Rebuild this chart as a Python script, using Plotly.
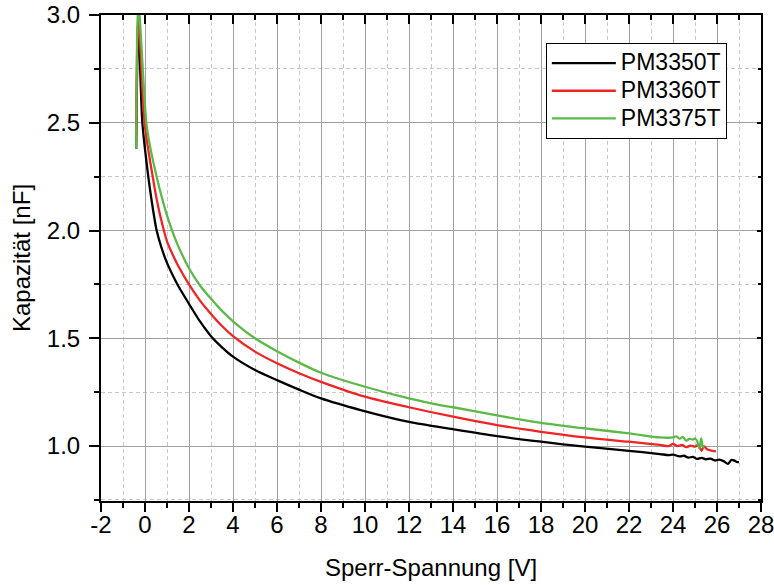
import plotly.graph_objects as go

# ---- data ----
v_3350 = [-0.4, -0.3, -0.12, 0.15, 0.3, 0.53, 0.75, 1.0, 1.25, 1.5, 2.0, 2.5, 3.0, 3.5, 4.0, 5.0, 6.0, 7.0, 8.0, 9.8,
          12.0, 14.0, 16.0, 18.0, 20.0, 22.0, 23.4, 23.8, 24.0, 24.3, 24.5, 24.7, 24.9, 25.1, 25.3, 25.5,
          25.7, 25.9, 26.1, 26.3, 26.5, 26.65, 26.8, 26.9, 27.0]
c_3350 = [2.38, 2.97, 2.5, 2.25, 2.14, 2.0, 1.92, 1.85, 1.795, 1.745, 1.66, 1.578, 1.51, 1.458, 1.415, 1.353, 1.306, 1.262, 1.221, 1.167,
          1.112, 1.078, 1.046, 1.02, 0.997, 0.978, 0.963, 0.958, 0.960, 0.952, 0.955, 0.946, 0.950, 0.940, 0.945, 0.938,
          0.942, 0.933, 0.937, 0.930, 0.917, 0.935, 0.932, 0.926, 0.925]

v_3360 = [-0.4, -0.3, -0.02, 0.35, 0.6, 0.86, 1.0, 1.25, 1.5, 2.0, 2.5, 3.0, 3.5, 4.0, 5.0, 6.0, 7.0, 8.0, 10.0, 12.0, 14.0, 16.0,
          18.0, 20.0, 22.0, 23.4, 23.8, 24.0, 24.2, 24.4, 24.6, 24.8, 25.0, 25.15, 25.3, 25.4, 25.55, 25.7, 25.95]
c_3360 = [2.44, 3.0, 2.5, 2.25, 2.11, 2.0, 1.95, 1.89, 1.838, 1.75, 1.675, 1.613, 1.557, 1.51, 1.438, 1.384, 1.338, 1.298, 1.229, 1.18, 1.136, 1.097,
          1.066, 1.040, 1.020, 1.005, 1.0, 1.01, 1.0, 1.005, 0.995, 1.002, 0.997, 1.005, 0.978, 1.0, 0.985, 0.98, 0.975]

v_3375 = [-0.4, -0.3, 0.06, 0.25, 0.53, 0.75, 1.0, 1.25, 1.5, 2.0, 2.5, 3.0, 3.5, 4.0, 5.0, 6.0, 7.0, 8.0, 10.0, 12.0,
          13.4, 14.0, 16.0, 18.0, 20.0, 22.0, 23.4, 24.0, 24.15, 24.3, 24.45, 24.6, 24.75, 24.9, 25.0, 25.1,
          25.2, 25.28, 25.35, 25.42]
c_3375 = [2.38, 3.05, 2.5, 2.38, 2.25, 2.16, 2.07, 1.995, 1.93, 1.825, 1.745, 1.683, 1.627, 1.579, 1.50, 1.44, 1.387, 1.34, 1.275, 1.221,
          1.19, 1.18, 1.142, 1.108, 1.082, 1.059, 1.040, 1.040, 1.045, 1.034, 1.042, 1.025, 1.033, 1.030, 1.035, 1.022,
          0.988, 1.036, 1.0, 0.995]

names = ["PM3350T", "PM3360T", "PM3375T"]
colors = ["#000000", "#f02424", "#5cb947"]

x_tickvals = [-2, 0, 2, 4, 6, 8, 10, 12, 14, 16, 18, 20, 22, 24, 26, 28]
x_ticktext = ["-2", "0", "2", "4", "6", "8", "10", "12", "14", "16", "18", "20", "22", "24", "26", "28"]
y_tickvals = [1.0, 1.5, 2.0, 2.5, 3.0]
y_ticktext = ["1.0", "1.5", "2.0", "2.5", "3.0"]

FONT = "Liberation Sans, Arial, sans-serif"

fig = go.Figure()
for v, c, n, col in zip([v_3350, v_3360, v_3375], [c_3350, c_3360, c_3375], names, colors):
    fig.add_trace(go.Scatter(x=v, y=c, mode="lines",
                             name='<span style="font-size:23px">%s</span>' % n,
                             line=dict(color=col, width=2.3, shape="spline", smoothing=0.8)))

# empty helper trace so that the mirrored (top/right) axes are drawn
fig.add_trace(go.Scatter(x=[None], y=[None], xaxis="x2", yaxis="y2",
                         showlegend=False, hoverinfo="skip"))

XR = [-2, 28]
YR = [0.745, 3.0]

common_grid = dict(gridcolor="#a0a0a0", gridwidth=1)
minor_grid = dict(showgrid=True, gridcolor="#c8c8c8", gridwidth=1, griddash="4px,3px")

fig.update_layout(
    width=774, height=585,
    margin=dict(l=101, r=13, t=15, b=84),
    paper_bgcolor="white", plot_bgcolor="white",
    font=dict(family=FONT, size=24, color="black"),
    showlegend=True,
    legend=dict(x=0.674, y=0.942, xanchor="left", yanchor="top",
                bgcolor="white", bordercolor="black", borderwidth=1,
                font=dict(size=19), itemwidth=64),
    xaxis=dict(range=XR, tickmode="array", tickvals=x_tickvals, ticktext=x_ticktext,
               showgrid=True, **common_grid, automargin=False, ticklabeloverflow="allow",
               ticklabelstandoff=-8,
               ticks="outside", ticklen=9, tickwidth=2, tickcolor="black",
               showline=True, linewidth=2, linecolor="black", zeroline=False,
               minor=dict(dtick=1, tick0=0, ticks="outside", ticklen=5, tickwidth=1.5, tickcolor="black", **minor_grid),
               title=dict(text="Sperr-Spannung [V]", font=dict(size=24), standoff=22)),
    yaxis=dict(range=YR, tickmode="array", tickvals=y_tickvals, ticktext=y_ticktext,
               showgrid=True, **common_grid, automargin=False, ticklabeloverflow="allow",
               ticklabelstandoff=4,
               ticks="outside", ticklen=10, tickwidth=2, tickcolor="black",
               showline=True, linewidth=2, linecolor="black", zeroline=False,
               minor=dict(dtick=0.25, tick0=0, ticks="outside", ticklen=5, tickwidth=1.5, tickcolor="black", **minor_grid),
               title=dict(text="Kapazität [nF]", font=dict(size=24), standoff=9)),
    xaxis2=dict(range=XR, overlaying="x", side="top", anchor="y", tick0=-2, dtick=2,
                showticklabels=False, showgrid=False, zeroline=False, automargin=False,
                ticks="inside", ticklen=9, tickwidth=2, tickcolor="black",
                showline=True, linewidth=2, linecolor="black",
                minor=dict(dtick=1, ticks="inside", ticklen=5, tickwidth=1.5, tickcolor="black", showgrid=False)),
    yaxis2=dict(range=YR, overlaying="y", side="right", anchor="x", tick0=0, dtick=0.5,
                showticklabels=False, showgrid=False, zeroline=False, automargin=False,
                ticks="inside", ticklen=4, tickwidth=2, tickcolor="black",
                showline=True, linewidth=2, linecolor="black",
                minor=dict(dtick=0.25, tick0=0, ticks="inside", ticklen=3, tickwidth=1.5, tickcolor="black", showgrid=False)),
)

fig.write_html("out.html")
